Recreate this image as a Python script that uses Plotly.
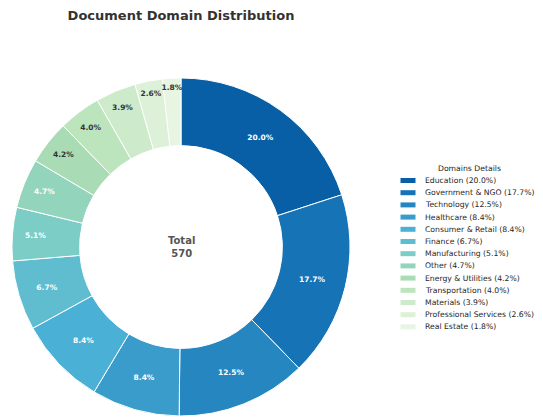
import plotly.graph_objects as go

# Data
domains = ['Education', 'Government & NGO', 'Technology', 'Healthcare',
           'Consumer & Retail', 'Finance', 'Manufacturing', 'Other',
           'Energy & Utilities', 'Transportation', 'Materials',
           'Professional Services', 'Real Estate']
counts = [114, 101, 71, 48, 48, 38, 29, 27, 24, 23, 22, 15, 10]
colors = ['#085fa6', '#1673b6', '#2586c0', '#3a9ccb', '#4bb0d5', '#5fbdcf',
          '#7bcdc5', '#93d4bd', '#a9dcb5', '#bde5bd', '#cdebca', '#dcf1d7',
          '#e7f5e2']
text_colors = ['white'] * 8 + ['#333333'] * 5

total = sum(counts)
pcts = [c / total * 100 for c in counts]
legend_names = [f'{d} ({p:.1f}%)' for d, p in zip(domains, pcts)]
slice_text = [f'{p:.1f}%' for p in pcts]

# page body has an 8px margin, so the figure is a bit smaller than the window
W, H, OFF = 535, 411, 8


def px(x):
    return (x - OFF) / W


def py(y):
    return 1 - (y - OFF) / H


fig = go.Figure(go.Pie(
    labels=domains,
    values=counts,
    text=slice_text,
    textinfo='text',
    textposition='inside',
    insidetextorientation='horizontal',
    textfont=dict(family='DejaVu Sans', size=7.5, color=text_colors, weight='bold'),
    marker=dict(colors=colors, line=dict(color='white', width=1)),
    hole=0.6,
    sort=False,
    direction='clockwise',
    rotation=0,
    showlegend=False,
    domain=dict(x=[px(12), px(350)], y=[py(416), py(78)]),
))

fig.add_annotation(text=f'<b>Total<br>{total}</b>', x=px(181), y=py(247), xref='paper', yref='paper',
                   showarrow=False, xanchor='center', yanchor='middle',
                   font=dict(family='DejaVu Sans', size=10, color='#555555'))

# legend drawn by hand so the rows can sit closer than plotly's minimum
fig.add_annotation(text='Domains Details', x=px(469), y=py(168), xref='paper', yref='paper',
                   showarrow=False, xanchor='center', yanchor='middle',
                   font=dict(family='DejaVu Sans', size=7.7, color='#222222'))
for i, (name, col) in enumerate(zip(legend_names, colors)):
    y = 180.5 + i * 12.2
    fig.add_shape(type='rect', xref='paper', yref='paper',
                  x0=px(400.5), x1=px(415.5), y0=py(y + 2.5), y1=py(y - 2.5),
                  fillcolor=col, line=dict(width=0))
    fig.add_annotation(text=name, x=px(422.5), y=py(y), xref='paper', yref='paper',
                       showarrow=False, xanchor='left', yanchor='middle',
                       font=dict(family='DejaVu Sans', size=7.7, color='#262626'))

fig.update_layout(
    width=W, height=H,
    margin=dict(l=0, r=0, t=0, b=0),
    paper_bgcolor='white',
    uniformtext=dict(minsize=7.5, mode='show'),
    title=dict(text='<b>Document Domain Distribution</b>', x=px(181), xanchor='center',
               y=py(15), yanchor='middle',
               font=dict(family='DejaVu Sans', size=13, color='#333333')),
)

fig.write_html('out.html')
